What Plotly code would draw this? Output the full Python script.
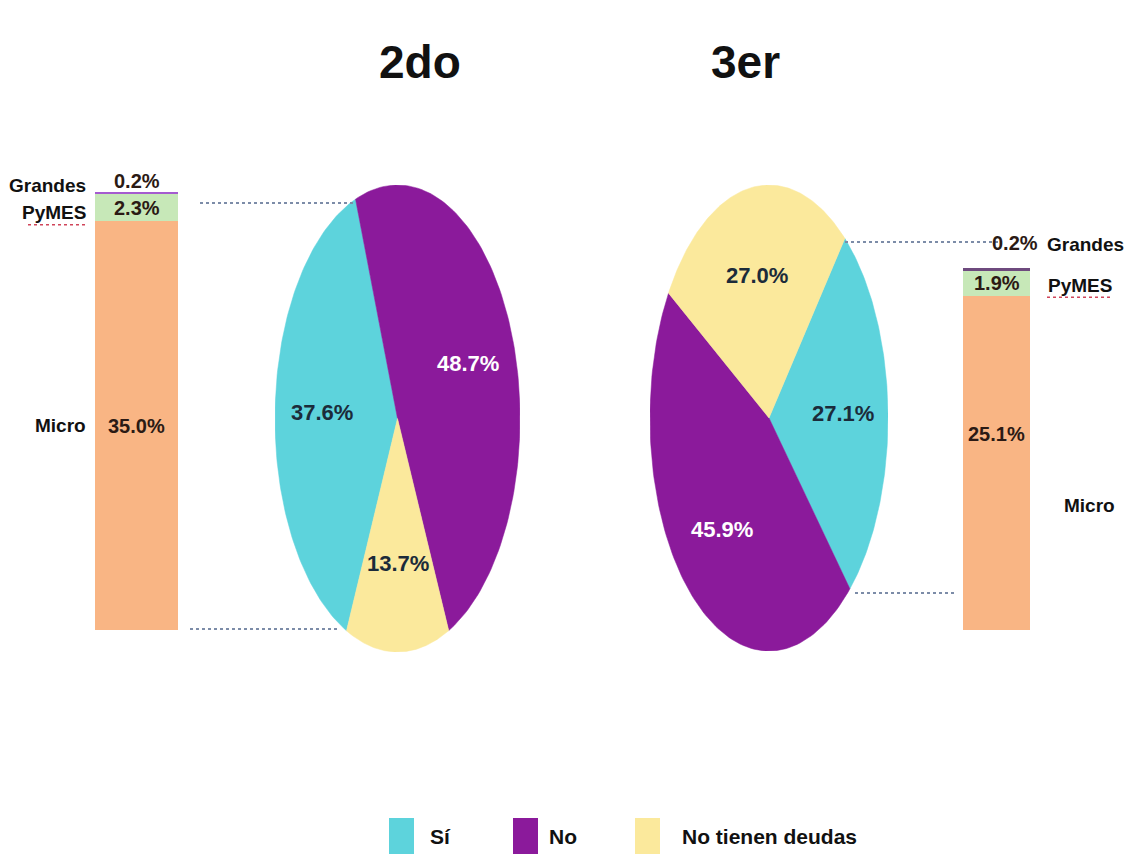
import numpy as np
import plotly.graph_objects as go

# ---------------- data ----------------
pie_titles = ["2do", "3er"]
pie_categories = ["Sí", "No", "No tienen deudas"]
pie_2do = [37.6, 48.7, 13.7]
pie_3er = [27.1, 45.9, 27.0]

bar_categories = ["Micro", "PyMES", "Grandes"]
bar_2do = [35.0, 2.3, 0.2]
bar_3er = [25.1, 1.9, 0.2]

# ---------------- style ----------------
FONT = "Liberation Sans, Arial, sans-serif"
pie_colors = ["#5DD3DC", "#8B1A9B", "#FBE99C"]
pie_text_colors = ["#1B2B3A", "#FFFFFF", "#1B2B3A"]
bar_colors_left = ["#F9B584", "#C7E8B8", "#A55BD0"]
bar_colors_right = ["#F9B584", "#C7E8B8", "#6E4A7E"]
TXT = "#15202B"
VAL = "#2B1A14"

W, H = 1146, 854
OFF = 8  # page body margin
def px(x):
    return (x - OFF) / W
def py(y):
    return 1 - (y - OFF) / H

fig = go.Figure()

# ---------------- pies (elliptical, drawn in stretched axes) ----------------
pie_specs = [
    (pie_2do, 204.6, "x2", "y2"),
    (pie_3er, 39.6, "x3", "y3"),
]
annotations = []
for values, rotation, xa, ya in pie_specs:
    total = sum(values)
    start = rotation
    for i, v in enumerate(values):
        sweep = v / total * 360.0
        th = np.radians(np.linspace(start, start + sweep, 120))
        xs = np.concatenate([[0], np.sin(th), [0]])
        ys = np.concatenate([[0], np.cos(th), [0]])
        fig.add_trace(go.Scatter(
            x=xs, y=ys, mode="lines", fill="toself",
            fillcolor=pie_colors[i], line=dict(color=pie_colors[i], width=0.5),
            name=pie_categories[i], showlegend=False, hoverinfo="skip",
            xaxis=xa, yaxis=ya,
        ))
        mid = np.radians(start + sweep / 2)
        r = 0.62
        annotations.append(dict(
            x=r * np.sin(mid), y=r * np.cos(mid), xref=xa, yref=ya,
            xanchor="center", yanchor="middle",
            text=f"<b>{v:.1f}%</b>", showarrow=False,
            font=dict(family=FONT, size=22, color=pie_text_colors[i]),
        ))
        start += sweep

# ---------------- stacked bars ----------------
for i, v in enumerate(bar_2do):
    fig.add_trace(go.Bar(x=[0], y=[v], width=1, name=bar_categories[i],
                         marker=dict(color=bar_colors_left[i], line_width=0),
                         showlegend=False, hoverinfo="skip", xaxis="x", yaxis="y"))
for i, v in enumerate(bar_3er):
    fig.add_trace(go.Bar(x=[0], y=[v], width=1, name=bar_categories[i],
                         marker=dict(color=bar_colors_right[i], line_width=0),
                         showlegend=False, hoverinfo="skip", xaxis="x4", yaxis="y4"))

vf = dict(family=FONT, size=20, color=VAL)
cf = dict(family=FONT, size=19, color="#111111")
# left bar values and category labels
cum = np.cumsum([0] + bar_2do)
annotations += [
    dict(x=0, y=cum[3], xref="x", yref="y", xanchor="center", yanchor="bottom", yshift=-2,
         text=f"<b>{bar_2do[2]:.1f}%</b>", showarrow=False, font=vf),
    dict(x=0, y=(cum[1] + cum[2]) / 2, xref="x", yref="y", xanchor="center", yanchor="middle",
         text=f"<b>{bar_2do[1]:.1f}%</b>", showarrow=False, font=vf),
    dict(x=0, y=(cum[0] + cum[1]) / 2, xref="x", yref="y", xanchor="center", yanchor="middle",
         text=f"<b>{bar_2do[0]:.1f}%</b>", showarrow=False, font=vf),
    dict(x=px(88), y=cum[3], xref="paper", yref="y", xanchor="right", yanchor="middle", yshift=7,
         text=f"<b>{bar_categories[2]}</b>", showarrow=False, font=cf),
    dict(x=px(88), y=(cum[1] + cum[2]) / 2, xref="paper", yref="y", xanchor="right", yanchor="middle",
         yshift=-5, text=f"<b>{bar_categories[1]}</b>", showarrow=False, font=cf),
    dict(x=px(88), y=(cum[0] + cum[1]) / 2, xref="paper", yref="y", xanchor="right", yanchor="middle",
         text=f"<b>{bar_categories[0]}</b>", showarrow=False, font=cf),
]
# right bar values and category labels
cum2 = np.cumsum([0] + bar_3er)
annotations += [
    dict(x=px(1040), y=py(243), xref="paper", yref="paper", xanchor="right", yanchor="middle",
         text=f"<b>{bar_3er[2]:.1f}%</b>", showarrow=False, font=vf),
    dict(x=0, y=(cum2[1] + cum2[2]) / 2, xref="x4", yref="y4", xanchor="center", yanchor="middle",
         text=f"<b>{bar_3er[1]:.1f}%</b>", showarrow=False, font=vf),
    dict(x=0, y=(cum2[0] + cum2[1]) / 2 + 2.2, xref="x4", yref="y4", xanchor="center", yanchor="middle",
         text=f"<b>{bar_3er[0]:.1f}%</b>", showarrow=False, font=vf),
    dict(x=px(1045), y=py(245), xref="paper", yref="paper", xanchor="left", yanchor="middle",
         text=f"<b>{bar_categories[2]}</b>", showarrow=False, font=cf),
    dict(x=px(1046), y=(cum2[1] + cum2[2]) / 2, xref="paper", yref="y4", xanchor="left", yanchor="middle",
         yshift=-2, text=f"<b>{bar_categories[1]}</b>", showarrow=False, font=cf),
    dict(x=px(1062), y=py(505), xref="paper", yref="paper", xanchor="left", yanchor="middle",
         text=f"<b>{bar_categories[0]}</b>", showarrow=False, font=cf),
]
# titles
tf = dict(family=FONT, size=46, color="#111111")
annotations += [
    dict(x=px(420), y=py(62), xref="paper", yref="paper", xanchor="center", yanchor="middle",
         text=f"<b>{pie_titles[0]}</b>", showarrow=False, font=tf),
    dict(x=px(745), y=py(62), xref="paper", yref="paper", xanchor="center", yanchor="middle",
         text=f"<b>{pie_titles[1]}</b>", showarrow=False, font=tf),
]

# ---------------- legend (swatches + labels) ----------------
legend_swatch_x = [389, 513, 635]
legend_text_x = [428, 547, 680]
shapes = []
lf = dict(family=FONT, size=21, color="#111111")
for i, name in enumerate(pie_categories):
    shapes.append(dict(type="rect", xref="paper", yref="paper",
                       x0=px(legend_swatch_x[i]), x1=px(legend_swatch_x[i] + 25),
                       y0=py(862), y1=py(818), fillcolor=pie_colors[i], line_width=0))
    annotations.append(dict(x=px(legend_text_x[i]), y=py(836), xref="paper", yref="paper",
                            xanchor="left", yanchor="middle", text=f"<b>{name}</b>",
                            showarrow=False, font=lf))

# ---------------- dotted connectors ----------------
dl = dict(color="#7C8CA8", width=2, dash="dot")
shapes += [
    dict(type="line", xref="paper", yref="paper", x0=px(200), x1=px(354), y0=py(203), y1=py(203), line=dl),
    dict(type="line", xref="paper", yref="paper", x0=px(190), x1=px(340), y0=py(629), y1=py(629), line=dl),
    dict(type="line", xref="paper", yref="paper", x0=px(845), x1=px(1000), y0=py(242), y1=py(242), line=dl),
    dict(type="line", xref="paper", yref="paper", x0=px(855), x1=px(955), y0=py(593), y1=py(593), line=dl),
]
# red spell-check squiggles under "PyMES"
sq = dict(color="#D0455A", width=1.5, dash="dot")
shapes += [
    dict(type="line", xref="paper", yref="y", ysizemode="pixel", yanchor=(cum[1] + cum[2]) / 2,
         x0=px(28), x1=px(88), y0=-17, y1=-17, line=sq),
    dict(type="line", xref="paper", yref="y4", ysizemode="pixel", yanchor=(cum2[1] + cum2[2]) / 2,
         x0=px(1047), x1=px(1112), y0=-14, y1=-14, line=sq),
]

noax = dict(visible=False, showgrid=False, zeroline=False, fixedrange=True)
fig.update_layout(
    width=W, height=H,
    margin=dict(l=0, r=0, t=0, b=0),
    paper_bgcolor="white", plot_bgcolor="rgba(0,0,0,0)",
    barmode="stack", bargap=0,
    font=dict(family=FONT, color=TXT),
    xaxis=dict(domain=[px(95), px(178)], range=[-0.5, 0.5], **noax),
    yaxis=dict(domain=[py(630), py(192)], range=[0, sum(bar_2do)], **noax),
    xaxis2=dict(domain=[px(275), px(520)], range=[-1, 1], **noax),
    yaxis2=dict(domain=[py(652), py(185)], range=[-1, 1], **noax),
    xaxis3=dict(domain=[px(650), px(888)], range=[-1, 1], **noax),
    yaxis3=dict(domain=[py(651), py(185)], range=[-1, 1], **noax),
    xaxis4=dict(domain=[px(963), px(1030)], range=[-0.5, 0.5], **noax),
    yaxis4=dict(domain=[py(630), py(268)], range=[0, sum(bar_3er)], **noax),
    showlegend=False,
    annotations=annotations,
    shapes=shapes,
)

fig.write_html("out.html")
